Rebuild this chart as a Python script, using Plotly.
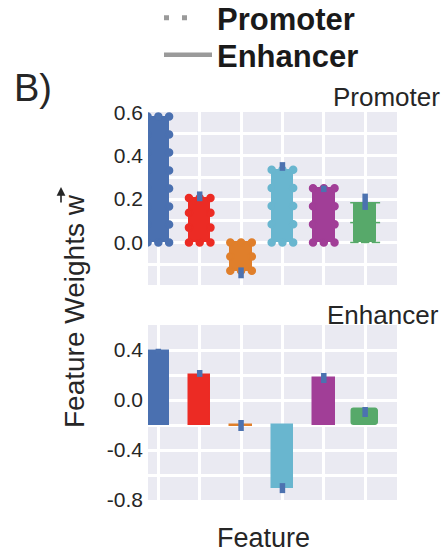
import plotly.graph_objects as go

# Feature positions along the x axis (no tick labels are shown)
features = [0, 1, 2, 3, 4, 5]
colors = ["#4a70b0", "#ec2b24", "#e07f2b", "#69b6cf", "#a13e97", "#57a96a"]
err_color = "#4c72b0"

# Promoter model weights and their confidence interval extents
promoter_w = [0.58, 0.205, -0.13, 0.335, 0.25, 0.183]
promoter_err_up = [0.015, 0.030, 0.015, 0.035, 0.012, 0.042]
promoter_err_dn = [0.015, 0.015, 0.035, 0.005, 0.018, 0.033]

# Enhancer model weights (bars hang from the -0.2 baseline)
enhancer_base = -0.2
enhancer_w = [0.39, 0.20, -0.205, -0.705, 0.174, -0.072]
enhancer_err_up = [0.020, 0.040, 0.045, 0.040, 0.042, 0.016]
enhancer_err_dn = [0.010, 0.015, 0.043, 0.040, 0.038, 0.064]

top_ticks = [-0.2, 0.0, 0.2, 0.4, 0.6]
top_ticktext = ["-0.2", "0.0", "0.2", "0.4", "0.6"]
bot_ticks = [-0.8, -0.4, 0.0, 0.4]
bot_ticktext = ["-0.8", "-0.4", "0.0", "0.4"]

BAR_W = 0.52
FONT = "Liberation Sans, Arial, sans-serif"
TXT = "#262626"

W, H = 448, 556
L, R = 148, 51
PW = W - L - R


def px(x):
    return (x - L) / PW


def py(y):
    return 1 - y / H


fig = go.Figure()

# ---- Promoter panel: filled bars with a dotted outline ----
fig.add_trace(go.Bar(
    x=features, y=promoter_w, width=BAR_W,
    marker=dict(color=colors, line=dict(color=colors, width=1)),
    xaxis="x", yaxis="y", showlegend=False, hoverinfo="skip",
))

for xi, v, c in zip(features, promoter_w, colors):
    n = max(2, round(abs(v) / 0.08))
    xl, xr = xi - BAR_W / 2, xi + BAR_W / 2
    xs, ys = [], []
    for k in range(n + 1):
        yk = v * k / n
        xs += [xl, xr]
        ys += [yk, yk]
    xs += [xi, xi]
    ys += [0, v]
    green = c == colors[5]
    fig.add_trace(go.Scatter(
        x=xs, y=ys, mode="markers", xaxis="x", yaxis="y",
        marker=dict(
            symbol="line-ew-open" if green else "circle",
            size=6 if green else 7,
            color=c, line=dict(color=c, width=1.5),
        ),
        showlegend=False, hoverinfo="skip",
    ))

fig.add_trace(go.Scatter(
    x=features, y=promoter_w, mode="markers", xaxis="x", yaxis="y",
    marker=dict(size=0.1, opacity=0),
    error_y=dict(type="data", symmetric=False, array=promoter_err_up,
                 arrayminus=promoter_err_dn, color=err_color,
                 thickness=5.5, width=0),
    showlegend=False, hoverinfo="skip",
))

# ---- Enhancer panel: solid bars ----
fig.add_trace(go.Bar(
    x=features[:5], y=[v - enhancer_base for v in enhancer_w[:5]],
    base=enhancer_base, width=BAR_W,
    marker=dict(color=colors[:5], line=dict(color=colors[:5], width=1.5)),
    xaxis="x2", yaxis="y2", showlegend=False, hoverinfo="skip",
))
fig.add_trace(go.Bar(
    x=features[5:], y=[v - enhancer_base for v in enhancer_w[5:]],
    base=enhancer_base, width=0.62,
    marker=dict(color=colors[5], line=dict(color=colors[5], width=1.5),
                cornerradius=3),
    xaxis="x2", yaxis="y2", showlegend=False, hoverinfo="skip",
))

fig.add_trace(go.Scatter(
    x=features, y=enhancer_w, mode="markers", xaxis="x2", yaxis="y2",
    marker=dict(size=0.1, opacity=0),
    error_y=dict(type="data", symmetric=False, array=enhancer_err_up,
                 arrayminus=enhancer_err_dn, color=err_color,
                 thickness=5.5, width=0),
    showlegend=False, hoverinfo="skip",
))

# ---- Line-style legend entries ----
fig.add_trace(go.Scatter(
    x=[None], y=[None], mode="lines", name="Promoter",
    line=dict(color="#9a9a9a", width=5, dash="5px,13px,5px,60px"),
    legend="legend", xaxis="x", yaxis="y",
))
fig.add_trace(go.Scatter(
    x=[None], y=[None], mode="lines", name="Enhancer",
    line=dict(color="#9a9a9a", width=4.5),
    legend="legend2", xaxis="x", yaxis="y",
))

xaxis_common = dict(
    range=[-0.25, 5.77], tickvals=features, showticklabels=False,
    showgrid=True, gridcolor="white", gridwidth=2.5, zeroline=False,
    ticks="", showline=False, fixedrange=True,
)
legend_common = dict(
    xanchor="left", yanchor="middle",
    font=dict(family=FONT, size=31, color="#1a1a1a", weight="bold"),
    bgcolor="rgba(0,0,0,0)", itemwidth=48, tracegroupgap=0,
)
fig.update_layout(
    width=W, height=H,
    margin=dict(l=L, r=R, t=0, b=0, autoexpand=False),
    paper_bgcolor="white", plot_bgcolor="#eaeaf2",
    font=dict(family=FONT, color=TXT),
    bargap=0,
    xaxis=dict(domain=[0, 1], anchor="y", **xaxis_common),
    xaxis2=dict(domain=[0, 1], anchor="y2", **xaxis_common),
    yaxis=dict(
        domain=[py(285), py(112)], anchor="x", range=[-0.196, 0.601],
        tickvals=top_ticks, ticktext=top_ticktext,
        tickfont=dict(size=21, color=TXT), ticks="", ticklabelstandoff=4,
        showgrid=True, gridcolor="white", gridwidth=2.5, zeroline=False,
        minor=dict(dtick=0.1, tick0=0, showgrid=True, gridcolor="white", gridwidth=2.5),
    ),
    yaxis2=dict(
        domain=[py(500), py(325)], anchor="x2", range=[-0.8, 0.6],
        tickvals=bot_ticks, ticktext=bot_ticktext,
        tickfont=dict(size=21, color=TXT), ticks="", ticklabelstandoff=4,
        showgrid=True, gridcolor="white", gridwidth=2.5, zeroline=False,
        minor=dict(dtick=0.2, tick0=0, showgrid=True, gridcolor="white", gridwidth=2.5),
    ),
    legend=dict(x=px(159), y=py(18), **legend_common),
    legend2=dict(x=px(159), y=py(55), **legend_common),
    annotations=[
        dict(text="B)", x=px(12), y=py(88), xref="paper", yref="paper",
             xanchor="left", yanchor="middle", showarrow=False,
             font=dict(size=38, color=TXT)),
        dict(text="Promoter", x=px(442), y=py(97), xref="paper", yref="paper",
             xanchor="right", yanchor="middle", showarrow=False,
             font=dict(size=26, color=TXT)),
        dict(text="Enhancer", x=px(441), y=py(315), xref="paper", yref="paper",
             xanchor="right", yanchor="middle", showarrow=False,
             font=dict(size=26, color=TXT)),
        dict(text="Feature", x=px(263), y=py(538), xref="paper", yref="paper",
             xanchor="center", yanchor="middle", showarrow=False,
             font=dict(size=27, color=TXT)),
        dict(text="Feature Weights w", x=px(74), y=py(311),
             xref="paper", yref="paper", textangle=-90,
             xanchor="center", yanchor="middle", showarrow=False,
             font=dict(size=28, color=TXT)),
        # vector arrow over the "w" of the axis title
        dict(text="", x=px(61), y=py(187), ax=0, ay=17,
             xref="paper", yref="paper", showarrow=True,
             arrowhead=2, arrowsize=1.1, arrowwidth=1.6, arrowcolor=TXT),
    ],
)

fig.write_html("out.html")
